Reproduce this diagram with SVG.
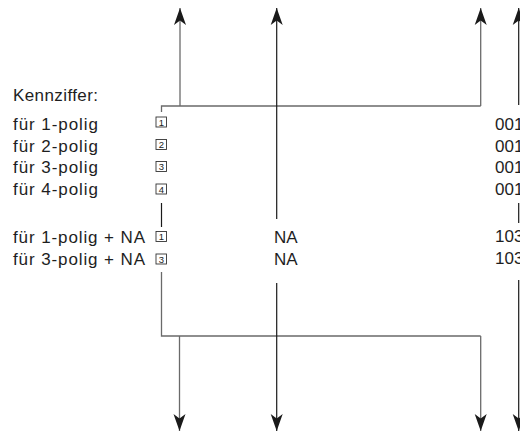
<svg xmlns="http://www.w3.org/2000/svg" width="520" height="432" viewBox="0 0 520 432">
<style>
.t{font-family:"Liberation Sans",Arial,Helvetica,sans-serif;font-size:17px;fill:#1e1e1e}
.b{fill:#fff;stroke:#333;stroke-width:0.9}
.bt{font-family:"Liberation Sans",Arial,sans-serif;font-size:9.5px;fill:#222;text-anchor:middle}
.g{fill:none;stroke:#6a6a6a;stroke-width:1.3}
.k{fill:none;stroke:#1a1a1a;stroke-width:1.2}
</style>
<defs>
<marker id="ah" markerUnits="userSpaceOnUse" markerWidth="18" markerHeight="14" refX="17" refY="7" orient="auto" viewBox="0 0 18 14">
<path d="M0,1 L17,7 L0,13 L4.5,7 Z" fill="#1a1a1a"/>
</marker>
</defs>
<rect width="520" height="432" fill="#fff"/>
<g id="connectors">
<path class="g" d="M161.5,112 V106 H480.7"/>
<line class="g" x1="180" y1="106" x2="180" y2="8" marker-end="url(#ah)"/>
<line class="g" x1="480.7" y1="106" x2="480.7" y2="8" marker-end="url(#ah)"/>
<line class="k" x1="276.7" y1="219" x2="276.7" y2="8" marker-end="url(#ah)"/>
<line class="k" x1="518.7" y1="105" x2="518.7" y2="8" marker-end="url(#ah)"/>
<line class="k" x1="161.5" y1="203" x2="161.5" y2="227"/>
<line class="k" x1="518.7" y1="203" x2="518.7" y2="223"/>
<path class="g" d="M161.5,272 V336 H480.7"/>
<line class="g" x1="179.5" y1="336" x2="179.5" y2="431" marker-end="url(#ah)"/>
<line class="g" x1="480.7" y1="336" x2="480.7" y2="431" marker-end="url(#ah)"/>
<line class="k" x1="276.7" y1="283" x2="276.7" y2="431" marker-end="url(#ah)"/>
<line class="k" x1="518.7" y1="280" x2="518.7" y2="431" marker-end="url(#ah)"/>
</g>
<g id="kennziffer">
<text class="t" x="13" y="101" textLength="85" lengthAdjust="spacing">Kennziffer:</text>
</g>
<g id="row-1-polig">
<text class="t" x="13" y="129.5" textLength="85" lengthAdjust="spacing">für 1-polig</text>
<rect class="b" x="156" y="117" width="10.5" height="10"/>
<text class="bt" x="161.3" y="125.7">1</text>
<text class="t" x="495" y="130">001</text>
</g>
<g id="row-2-polig">
<text class="t" x="13" y="151.5" textLength="85" lengthAdjust="spacing">für 2-polig</text>
<rect class="b" x="156" y="139.5" width="10.5" height="10"/>
<text class="bt" x="161.3" y="148.2">2</text>
<text class="t" x="495" y="151.5">001</text>
</g>
<g id="row-3-polig">
<text class="t" x="13" y="173" textLength="85" lengthAdjust="spacing">für 3-polig</text>
<rect class="b" x="156" y="161.5" width="10.5" height="10"/>
<text class="bt" x="161.3" y="170.2">3</text>
<text class="t" x="495" y="173">001</text>
</g>
<g id="row-4-polig">
<text class="t" x="13" y="195" textLength="85" lengthAdjust="spacing">für 4-polig</text>
<rect class="b" x="156" y="184" width="10.5" height="10"/>
<text class="bt" x="161.3" y="192.7">4</text>
<text class="t" x="495" y="194.5">001</text>
</g>
<g id="row-1-polig-na">
<text class="t" x="13" y="242.5" textLength="132" lengthAdjust="spacing">für 1-polig + NA</text>
<rect class="b" x="156" y="231.5" width="10.5" height="10"/>
<text class="bt" x="161.3" y="240.2">1</text>
<text class="t" x="274" y="242.5">NA</text>
<text class="t" x="495" y="242">103</text>
</g>
<g id="row-3-polig-na">
<text class="t" x="13" y="264.5" textLength="132" lengthAdjust="spacing">für 3-polig + NA</text>
<rect class="b" x="156" y="254" width="10.5" height="10"/>
<text class="bt" x="161.3" y="262.7">3</text>
<text class="t" x="274" y="264.5">NA</text>
<text class="t" x="495" y="264">103</text>
</g>
</svg>
